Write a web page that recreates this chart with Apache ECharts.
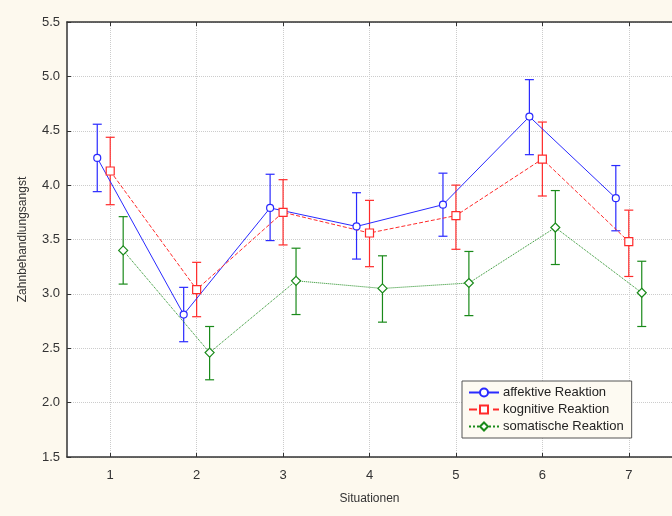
<!DOCTYPE html>
<html>
<head>
<meta charset="utf-8">
<script src="https://cdn.jsdelivr.net/npm/echarts@6/dist/echarts.min.js"></script>
<style>
  html, body { margin: 0; padding: 0; background: #fdf9ee; }
  #chart { width: 672px; height: 516px; }
</style>
</head>
<body>
<div id="chart"></div>
<script>
var situations = [1, 2, 3, 4, 5, 6, 7];

// Mittelwerte und Fehlerbalken (untere / obere Grenze)
var affektivMean = [4.25, 2.81, 3.79, 3.62, 3.82, 4.63, 3.88];
var affektivLow = [3.94, 2.56, 3.49, 3.32, 3.53, 4.28, 3.58];
var affektivHigh = [4.56, 3.06, 4.10, 3.93, 4.11, 4.97, 4.18];

var kognitivMean = [4.13, 3.04, 3.75, 3.56, 3.72, 4.24, 3.48];
var kognitivLow = [3.82, 2.79, 3.45, 3.25, 3.41, 3.90, 3.16];
var kognitivHigh = [4.44, 3.29, 4.05, 3.86, 4.00, 4.58, 3.77];

var somatischMean = [3.40, 2.46, 3.12, 3.05, 3.10, 3.61, 3.01];
var somatischLow = [3.09, 2.21, 2.81, 2.74, 2.80, 3.27, 2.70];
var somatischHigh = [3.71, 2.70, 3.42, 3.35, 3.39, 3.95, 3.30];

var names = ['affektive Reaktion', 'kognitive Reaktion', 'somatische Reaktion'];
var colors = ['#2a2aff', '#ff2a2a', '#1a8a1a'];
var shift = 0.15;

function points(mean, off) {
  return mean.map(function (v, i) { return [situations[i] + off, v]; });
}
function bars(low, high, off) {
  return low.map(function (v, i) { return [situations[i] + off, v, high[i]]; });
}
function errorSeries(low, high, off, color) {
  return {
    type: 'custom',
    data: bars(low, high, off),
    z: 1,
    renderItem: function (params, api) {
      var a = api.coord([api.value(0), api.value(1)]);
      var b = api.coord([api.value(0), api.value(2)]);
      var w = 4.5;
      var st = {stroke: color, lineWidth: 1.2};
      return {
        type: 'group',
        children: [
          {type: 'line', shape: {x1: a[0], y1: a[1], x2: b[0], y2: b[1]}, style: st},
          {type: 'line', shape: {x1: a[0] - w, y1: a[1], x2: a[0] + w, y2: a[1]}, style: st},
          {type: 'line', shape: {x1: b[0] - w, y1: b[1], x2: b[0] + w, y2: b[1]}, style: st}
        ]
      };
    }
  };
}
function lineSeries(name, mean, off, color, dash, symbol, size) {
  return {
    name: name,
    type: 'line',
    data: points(mean, off),
    z: 3,
    symbol: symbol,
    symbolSize: size,
    showAllSymbol: true,
    lineStyle: {color: color, width: 1, type: dash},
    itemStyle: {color: '#ffffff', borderColor: color, borderWidth: 1.2},
    emphasis: {disabled: true}
  };
}

var axisCol = '#333333';
var gridCol = '#cccccc';

var chart = echarts.init(document.getElementById('chart'));
var option = {
  backgroundColor: '#fdf9ee',
  animation: false,
  textStyle: {fontFamily: 'Liberation Sans, Arial, sans-serif'},
  grid: {left: 67, top: 22, width: 607, height: 435, backgroundColor: '#ffffff', show: true, borderWidth: 0},
  legend: {
    orient: 'vertical',
    left: 462,
    top: 381,
    width: 170,
    padding: [5, 8, 5, 6],
    itemGap: 4,
    itemWidth: 30,
    itemHeight: 10,
    backgroundColor: '#fdfaf2',
    borderColor: '#555555',
    borderWidth: 1,
    textStyle: {fontSize: 13, color: '#222222', padding: [0, 0, 0, -1]},
    data: names
  },
  xAxis: [{
    type: 'value',
    min: 0.5,
    max: 7.5,
    name: 'Situationen',
    nameLocation: 'middle',
    nameGap: 36,
    nameTextStyle: {fontSize: 12, color: axisCol},
    axisLine: {show: true, onZero: false, lineStyle: {color: axisCol, width: 1.5}},
    axisTick: {show: true, inside: true, length: 4, customValues: situations, lineStyle: {color: axisCol}},
    axisLabel: {customValues: situations, fontSize: 13, color: axisCol, margin: 12},
    splitLine: {show: true, customValues: situations, lineStyle: {color: gridCol, type: 'dotted'}}
  }, {
    type: 'value',
    position: 'top',
    min: 0.5,
    max: 7.5,
    axisLine: {show: true, onZero: false, lineStyle: {color: axisCol, width: 1.5}},
    axisTick: {show: true, inside: true, length: 4, customValues: situations, lineStyle: {color: axisCol}},
    axisLabel: {show: false},
    splitLine: {show: false}
  }],
  yAxis: {
    type: 'value',
    min: 1.5,
    max: 5.5,
    interval: 0.5,
    name: 'Zahnbehandlungsangst',
    nameLocation: 'middle',
    nameGap: 38,
    nameTextStyle: {fontSize: 12, color: axisCol},
    axisLine: {show: true, lineStyle: {color: axisCol, width: 1.5}},
    axisTick: {show: true, inside: true, length: 4, lineStyle: {color: axisCol}},
    axisLabel: {fontSize: 13, color: axisCol, margin: 7, formatter: function (v) { return v.toFixed(1); }},
    splitLine: {show: true, lineStyle: {color: gridCol, type: 'dotted'}}
  },
  series: [
    errorSeries(affektivLow, affektivHigh, -shift, colors[0]),
    errorSeries(kognitivLow, kognitivHigh, 0, colors[1]),
    errorSeries(somatischLow, somatischHigh, shift, colors[2]),
    lineSeries(names[0], affektivMean, -shift, colors[0], 'solid', 'circle', 7),
    lineSeries(names[1], kognitivMean, 0, colors[1], 'dashed', 'rect', 8),
    lineSeries(names[2], somatischMean, shift, colors[2], 'dotted', 'diamond', 9)
  ]
};
chart.setOption(option);
</script>
</body>
</html>
